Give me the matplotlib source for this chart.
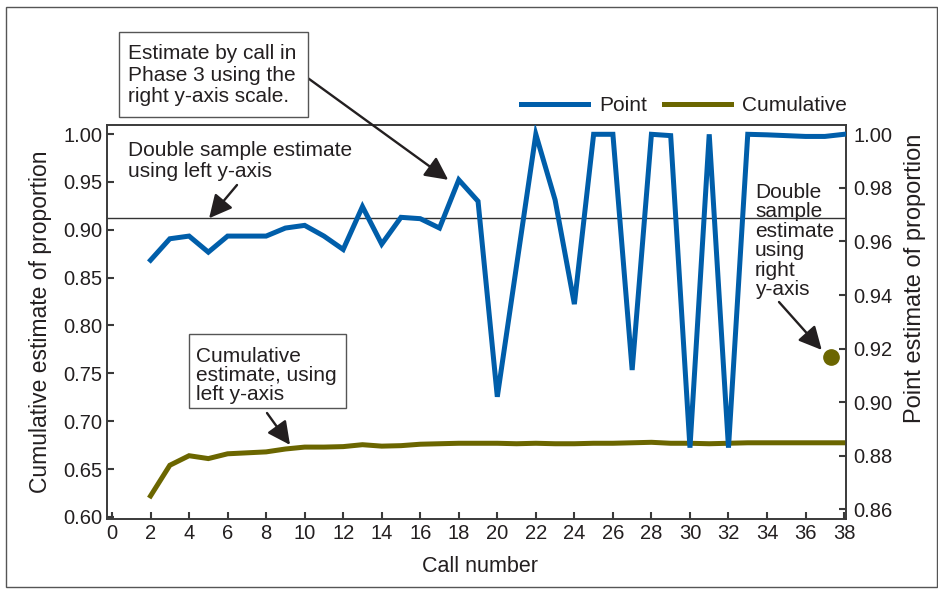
import matplotlib
matplotlib.use('Agg')
import matplotlib.pyplot as plt
from matplotlib.patches import Rectangle
from matplotlib.lines import Line2D
from matplotlib.ticker import FormatStrFormatter

# ---------------- data ----------------
calls = list(range(2, 39))
point_estimate = [0.953, 0.961, 0.962, 0.956, 0.962, 0.962, 0.962, 0.965, 0.966, 0.962,
                  0.957, 0.973, 0.959, 0.969, 0.9685, 0.965, 0.983, 0.975, 0.902, 0.951,
                  1.000, 0.9755, 0.9366, 1.000, 1.000, 0.912, 1.000, 0.9995, 0.883, 1.000,
                  0.883, 1.000, 0.9998, 0.9995, 0.9992, 0.9992, 1.000]
cumulative_estimate = [0.622, 0.654, 0.664, 0.661, 0.666, 0.667, 0.668, 0.671, 0.673, 0.673,
                       0.6735, 0.6755, 0.674, 0.6745, 0.676, 0.6765, 0.677, 0.677, 0.677, 0.6765,
                       0.677, 0.6765, 0.6765, 0.677, 0.677, 0.6775, 0.678, 0.677, 0.677, 0.6765,
                       0.677, 0.6775, 0.6775, 0.6775, 0.6775, 0.6775, 0.6775]
double_sample_left = 0.912
double_sample_right = 0.917
double_sample_call = 37.3

x_ticks = list(range(0, 39, 2))
left_ticks = [0.60, 0.65, 0.70, 0.75, 0.80, 0.85, 0.90, 0.95, 1.00]
right_ticks = [0.86, 0.88, 0.90, 0.92, 0.94, 0.96, 0.98, 1.00]

series_labels = ['Point', 'Cumulative']
x_label = 'Call number'
left_label = 'Cumulative estimate of proportion'
right_label = 'Point estimate of proportion'

# ---------------- style ----------------
W, H = 938, 589
plt.rcParams['font.family'] = ['Liberation Sans', 'DejaVu Sans']
TXT = '#231f20'
SPINE = '#3a3a3a'
BLUE = '#005eaa'
OLIVE = '#6b6600'
LW = 3.6

fig = plt.figure(figsize=(W / 100, H / 100), dpi=100)
ax = fig.add_axes([107 / W, 1 - 519 / H, (846 - 107) / W, (519 - 125) / H])
ax2 = ax.twinx()

ax.plot(calls, cumulative_estimate, color=OLIVE, lw=LW, solid_joinstyle='miter', zorder=3)
ax.axhline(double_sample_left, color='#333333', lw=1.0, zorder=2)
ax2.plot(calls, point_estimate, color=BLUE, lw=LW, solid_joinstyle='miter', zorder=3)
ax2.plot([double_sample_call], [double_sample_right], 'o', color=OLIVE, ms=11, zorder=4)

ax.set_xlim(-0.26, 38.1)
ax.set_ylim(0.5979, 1.0094)
ax2.set_ylim(0.85638, 1.00347)
ax.set_xticks(x_ticks)
ax.set_yticks(left_ticks)
ax2.set_yticks(right_ticks)
ax.yaxis.set_major_formatter(FormatStrFormatter('%.2f'))
ax2.yaxis.set_major_formatter(FormatStrFormatter('%.2f'))

for a in (ax, ax2):
    for s in a.spines.values():
        s.set_color(SPINE)
        s.set_linewidth(1.2)
TFS = 14.5
ax.tick_params(axis='both', direction='in', length=5, width=1.5, color=SPINE,
               labelsize=TFS, labelcolor=TXT)
ax.tick_params(axis='y', pad=3.5)
ax.tick_params(axis='x', pad=3.5)
ax2.tick_params(axis='y', direction='in', length=5, width=1.5, color=SPINE,
                labelsize=TFS, labelcolor=TXT, pad=5.5)

ax.set_xlabel(x_label, fontsize=15.5, color=TXT)
ax.set_ylabel(left_label, fontsize=16.5, color=TXT)
ax2.set_ylabel(right_label, fontsize=17, color=TXT)
ax.xaxis.set_label_coords(0.505, -0.094)
ax.yaxis.set_label_coords(-0.0744, 0.501)
ax2.yaxis.set_label_coords(1.0785, 0.612)

# legend
handles = [Line2D([], [], color=BLUE, lw=LW), Line2D([], [], color=OLIVE, lw=LW)]
leg = fig.legend(handles, series_labels, loc='center', bbox_to_anchor=(684 / W, 1 - 105.7 / H),
                 ncol=2, frameon=False, fontsize=15, handlelength=3.2,
                 handletextpad=0.55, columnspacing=0.8)
for t in leg.get_texts():
    t.set_color(TXT)

def fx(px):
    return px / W

def fy(py):
    return 1 - py / H

AFS = 15
arrow_kw = dict(arrowstyle='-|>,head_length=0.7,head_width=0.35', color=TXT, lw=1.7,
                shrinkA=0, shrinkB=0, mutation_scale=20)

def box(x0, y0, x1, y1):
    fig.patches.append(Rectangle((fx(x0), fy(y1)), (x1 - x0) / W, (y1 - y0) / H,
                                 transform=fig.transFigure, fc='white', ec='#555555',
                                 lw=1.0, zorder=5))

# annotation 1: boxed text
box(119, 32, 308, 117)
fig.text(fx(128), fy(44), 'Estimate by call in\nPhase 3 using the\nright y-axis scale.',
         ha='left', va='top', fontsize=AFS, color=TXT, linespacing=1.18, zorder=6)
ax2.annotate('', xy=(17.45, 0.983), xycoords='data',
             xytext=(fx(305), fy(76)), textcoords='figure fraction', arrowprops=arrow_kw)

# annotation 2
fig.text(fx(128), fy(141.5), 'Double sample estimate\nusing left y-axis', ha='left', va='top',
         fontsize=AFS, color=TXT, linespacing=1.08)
ax.annotate('', xy=(5.04, double_sample_left), xycoords='data',
            xytext=(fx(237), fy(185)), textcoords='figure fraction', arrowprops=arrow_kw)

# annotation 3: boxed text
box(189, 334, 346, 408)
fig.text(fx(196), fy(346.5), 'Cumulative\nestimate, using\nleft y-axis', ha='left', va='top',
         fontsize=AFS, color=TXT, linespacing=1.03, zorder=6)
ax.annotate('', xy=(9.24, 0.6753), xycoords='data',
            xytext=(fx(267), fy(413)), textcoords='figure fraction', arrowprops=arrow_kw)

# annotation 4
fig.text(fx(755), fy(183), 'Double\nsample\nestimate\nusing\nright\ny-axis', ha='left', va='top',
         fontsize=AFS, color=TXT, linespacing=1.03)
ax2.annotate('', xy=(36.84, 0.9195), xycoords='data',
             xytext=(fx(779), fy(302)), textcoords='figure fraction', arrowprops=arrow_kw)

# outer frame
fig.patches.append(Rectangle((fx(6), fy(587)), (937 - 6) / W, (587 - 7) / H,
                             transform=fig.transFigure, fill=False, ec='#555555', lw=1.0))

fig.savefig('out.png', dpi=100)
